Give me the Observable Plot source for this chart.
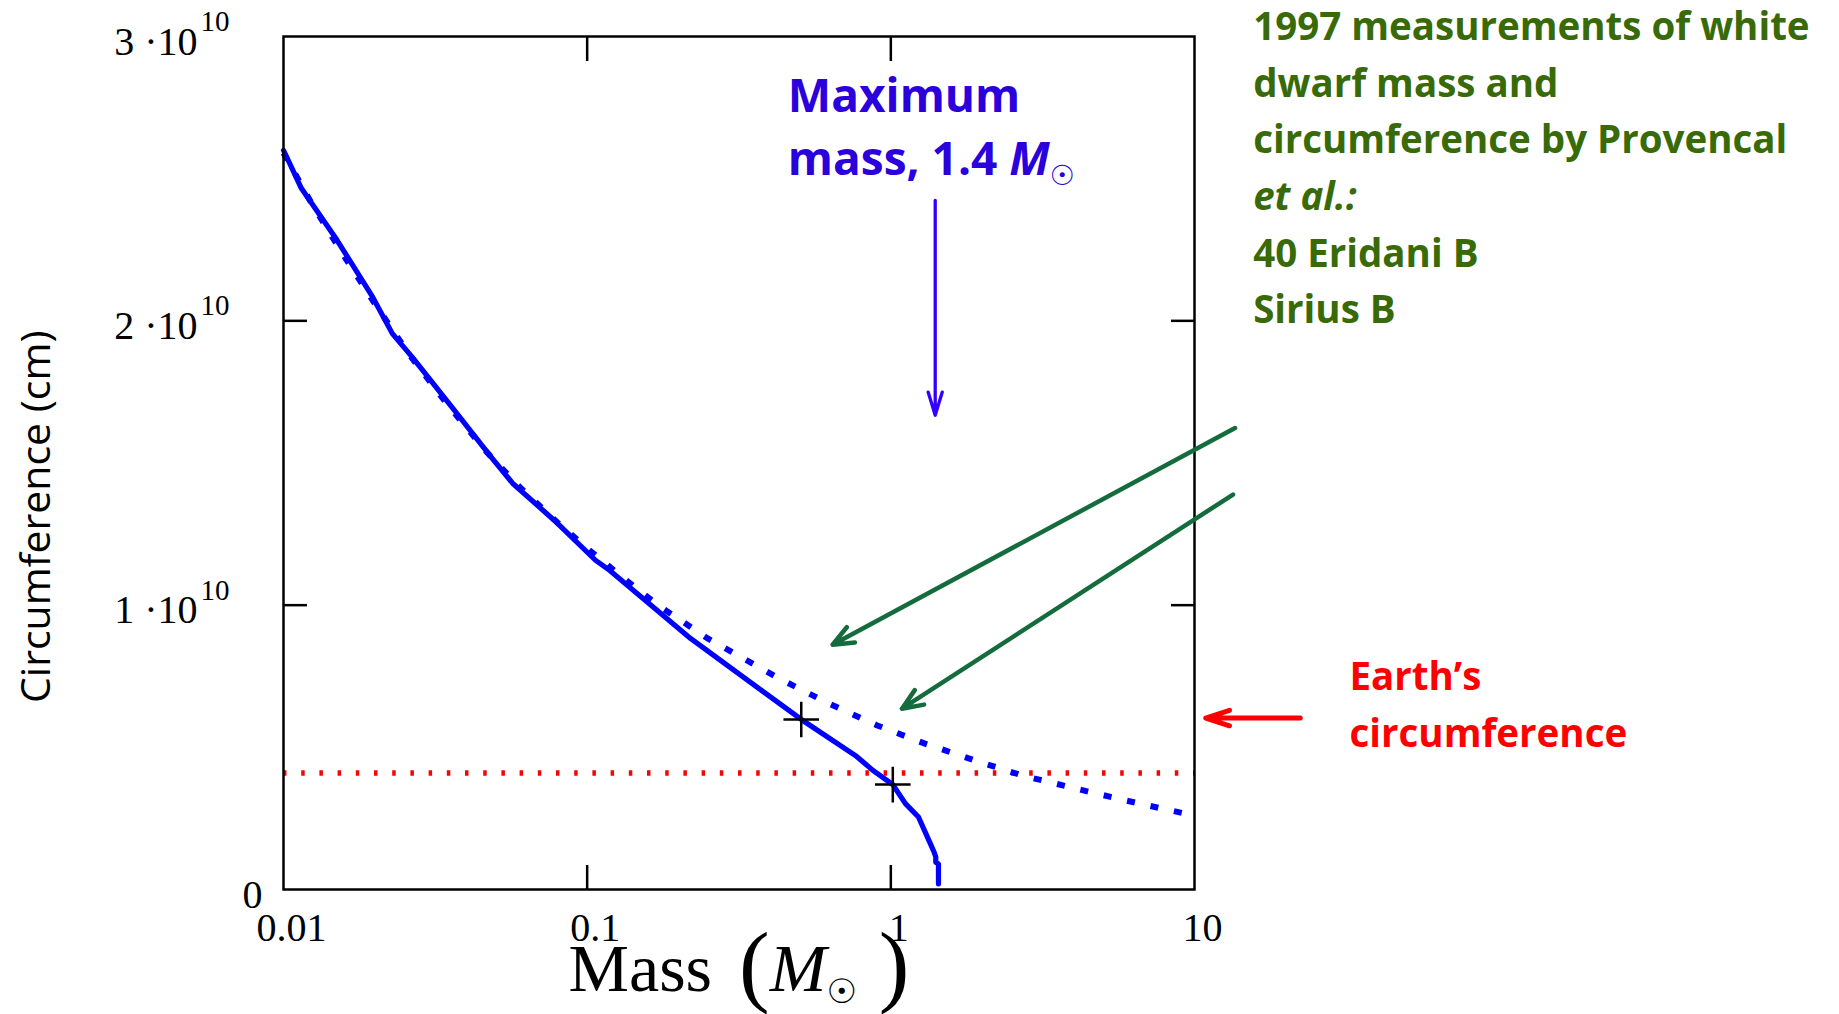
<!DOCTYPE html>
<html>
<head>
<meta charset="utf-8">
<script src="https://cdn.jsdelivr.net/npm/d3@7"></script>
<script src="https://cdn.jsdelivr.net/npm/@observablehq/plot@0.6"></script>
<style>
  html, body { margin: 0; padding: 0; background: #fff; }
  #chart svg { display: block; }
</style>
</head>
<body>
<div id="chart"></div>
<script>
// ---- Data ----
// Relativistic (solid) white-dwarf curve: mass (solar masses) vs circumference (cm)
const solidMass = [0.01, 0.01145, 0.015, 0.01965, 0.02283, 0.0265, 0.0358, 0.0483, 0.0569, 0.078, 0.1065, 0.1187, 0.2195, 0.507, 0.765, 0.873, 1.015, 1.117, 1.233, 1.338, 1.39, 1.406, 1.406, 1.435, 1.435];
const solidCirc = [2.600e10, 2.466e10, 2.284e10, 2.084e10, 1.955e10, 1.873e10, 1.697e10, 1.521e10, 1.428e10, 1.298e10, 1.158e10, 1.122e10, 0.882e10, 0.598e10, 0.471e10, 0.419e10, 0.369e10, 0.302e10, 0.255e10, 0.170e10, 0.130e10, 0.115e10, 0.096e10, 0.090e10, 0.020e10];

// Non-relativistic (dotted) curve
const dottedMass = [0.01, 0.0125, 0.016, 0.02, 0.026, 0.035, 0.047, 0.06, 0.08, 0.1, 0.13, 0.1716, 0.2502, 0.300, 0.4305, 0.628, 0.902, 1.295, 1.888, 2.71, 3.95, 5.78, 9.93, 10];
const dottedCirc = [2.59e10, 2.405e10, 2.22e10, 2.06e10, 1.88e10, 1.70e10, 1.535e10, 1.415e10, 1.29e10, 1.20e10, 1.10e10, 0.999e10, 0.882e10, 0.835e10, 0.741e10, 0.653e10, 0.577e10, 0.513e10, 0.454e10, 0.401e10, 0.358e10, 0.316e10, 0.260e10, 0.259e10];

// 1997 measurements (40 Eridani B, Sirius B)
const starNames = ["40 Eridani B", "Sirius B"];
const starMass = [0.507, 1.015];
const starCirc = [0.598e10, 0.369e10];

// Earth's circumference
const earthCirc = 4.1e9;

// Axis ticks
const xTickValues = [0.01, 0.1, 1, 10];
const xTickLabels = ["0.01", "0.1", "1", "10"];
const xInnerTicks = [0.1, 1];
const yTickValues = [1e10, 2e10, 3e10];
const yTickLabels = ["1 \u00b710", "2 \u00b710", "3 \u00b710"];
const yTickExponents = ["10", "10", "10"];
const yInnerTicks = [1e10, 2e10];

// Annotations (anchored in data coordinates)
const maxMass = 1.4;
const maxMassArrow = [{x1: maxMass, y1: 2.424e10, x2: maxMass, y2: 1.668e10}];
const maxMassText = [{x: 0.458, y: 2.512e10, text: "Maximum\nmass, 1.4"}];
const greenText = [{x: 15.6, y: 1.9916e10, text: "1997 measurements of white\ndwarf mass and\ncircumference by Provencal\net al.:\n40 Eridani B\nSirius B"}];
const greenArrows = [
  {x1: 13.6, y1: 1.623e10, x2: 0.643, y2: 0.861e10},
  {x1: 13.39, y1: 1.389e10, x2: 1.088, y2: 0.636e10}
];
const earthArrow = [{x1: 22.3, y1: 0.603e10, x2: 10.89, y2: 0.603e10}];
const earthText = [{x: 32.4, y: 0.5007e10, text: "Earth\u2019s\ncircumference"}];
const yTitle = "Circumference (cm)";
const yTitlePos = 1.311e10;

const solid = solidMass.map((m, i) => ({m, c: solidCirc[i]}));
const dotted = dottedMass.map((m, i) => ({m, c: dottedCirc[i]}));
const stars = starNames.map((name, i) => ({name, m: starMass[i], c: starCirc[i]}));

const serif = "'Liberation Serif', 'Times New Roman', serif";
const sans = "'Open Sans', Lato, sans-serif";

const chart = Plot.plot({
  width: 1839,
  height: 1014,
  marginLeft: 283,
  marginRight: 645,
  marginTop: 36,
  marginBottom: 125,
  style: {background: "white", overflow: "visible"},
  x: {type: "log", domain: [0.01, 10], axis: null},
  y: {domain: [0, 3e10], axis: null},
  marks: [
    // Earth's circumference (red dotted)
    Plot.ruleY([earthCirc], {x1: 0.01, x2: 10, stroke: "#ff0000", strokeWidth: 5.5, strokeDasharray: "3.5,14.7", strokeLinecap: "butt"}),
    // Curves
    Plot.line(dotted, {x: "m", y: "c", stroke: "#0000ff", strokeWidth: 6, strokeDasharray: "8,16", strokeLinecap: "butt", strokeLinejoin: "miter"}),
    Plot.line(solid, {x: "m", y: "c", stroke: "#0000ff", strokeWidth: 5.2, strokeLinejoin: "round"}),
    // Measurements
    Plot.dot(stars, {x: "m", y: "c", symbol: "plus", r: 11.5, stroke: "black", strokeWidth: 2.5}),
    // Frame and inward ticks
    Plot.frame({stroke: "black", strokeWidth: 2.5}),
    Plot.axisX({ticks: xInnerTicks, anchor: "bottom", tickSize: -24, strokeWidth: 2.5, tickFormat: () => "", label: null}),
    Plot.axisX({ticks: xInnerTicks, anchor: "top", tickSize: -24, strokeWidth: 2.5, tickFormat: () => "", label: null}),
    Plot.axisY({ticks: yInnerTicks, anchor: "left", tickSize: -24, strokeWidth: 2.5, tickFormat: () => "", label: null}),
    Plot.axisY({ticks: yInnerTicks, anchor: "right", tickSize: -24, strokeWidth: 2.5, tickFormat: () => "", label: null}),
    // Tick labels
    Plot.text(xTickValues, {x: d => d, text: (d, i) => xTickLabels[i], frameAnchor: "bottom", lineAnchor: "bottom", dx: 8, dy: 51, fontFamily: serif, fontSize: 40, fill: "black"}),
    Plot.text([0], {y: d => d, text: () => "0", frameAnchor: "left", textAnchor: "end", lineAnchor: "bottom", dx: -21, dy: 18, fontFamily: serif, fontSize: 40, fill: "black"}),
    Plot.text(yTickValues, {y: d => d, text: (d, i) => yTickLabels[i], frameAnchor: "left", textAnchor: "end", lineAnchor: "bottom", dx: -86, dy: 18, fontFamily: serif, fontSize: 40, fill: "black"}),
    Plot.text(yTickValues, {y: d => d, text: (d, i) => yTickExponents[i], frameAnchor: "left", textAnchor: "end", lineAnchor: "bottom", dx: -54, dy: -5.5, fontFamily: serif, fontSize: 29, fill: "black"}),
    // Axis titles
    Plot.text([yTitle], {y: yTitlePos, text: d => d, frameAnchor: "left", rotate: -90, textAnchor: "middle", lineAnchor: "bottom", dx: -233.6, fontFamily: sans, fontSize: 41, fill: "black"}),
    Plot.text(["Mass"], {text: d => d, frameAnchor: "bottom", textAnchor: "middle", lineAnchor: "bottom", dy: 101, fontFamily: serif, fontSize: 68, fill: "black"}),
    // Annotations
    Plot.arrow(maxMassArrow, {x1: "x1", y1: "y1", x2: "x2", y2: "y2", stroke: "#3300ff", strokeWidth: 3.3, headLength: 11, headAngle: 34}),
    Plot.text(maxMassText, {x: "x", y: "y", text: "text", textAnchor: "start", lineAnchor: "bottom", lineHeight: 1.376, fontFamily: sans, fontWeight: "bold", fontSize: 46, fill: "#2a00dd"}),
    Plot.arrow(greenArrows, {x1: "x1", y1: "y1", x2: "x2", y2: "y2", stroke: "#146c3c", strokeWidth: 4.5, headLength: 7.5, headAngle: 45}),
    Plot.text(greenText, {x: "x", y: "y", text: "text", textAnchor: "start", lineAnchor: "bottom", lineHeight: 1.47, fontFamily: sans, fontWeight: "bold", fontSize: 38.5, fill: "#386a08"}),
    Plot.arrow(earthArrow, {x1: "x1", y1: "y1", x2: "x2", y2: "y2", stroke: "#ff0000", strokeWidth: 5, headLength: 7.5, headAngle: 36}),
    Plot.text(earthText, {x: "x", y: "y", text: "text", textAnchor: "start", lineAnchor: "bottom", lineHeight: 1.497, fontFamily: sans, fontWeight: "bold", fontSize: 38.5, fill: "#ff0000"})
  ]
});

document.getElementById("chart").appendChild(chart);

// ---- Rich-text touches (italics, subscripts, large parentheses) ----
const svg = d3.select(chart);
// x-axis title: Mass (M☉)
svg.selectAll("text").filter(function() { return this.textContent === "Mass"; }).each(function() {
  const t = d3.select(this);
  t.append("tspan").attr("dx", 27).attr("dy", 4).attr("font-size", 92).text("(");
  t.append("tspan").attr("dy", -4).attr("font-style", "italic").text("M");
  t.append("tspan").attr("dy", 12).attr("font-size", 34).attr("font-family", "'DejaVu Sans', sans-serif").text("\u2609");
  t.append("tspan").attr("dx", 22).attr("dy", -8).attr("font-size", 92).text(")");
});
// Maximum-mass label: italic M with ☉ subscript
svg.selectAll("tspan").filter(function() { return this.textContent === "mass, 1.4"; }).each(function() {
  const t = d3.select(this);
  t.append("tspan").attr("dx", 12).attr("font-style", "italic").text("M");
  t.append("tspan").attr("dy", 10).attr("font-size", 28).attr("font-weight", "normal").attr("font-family", "'DejaVu Sans', sans-serif").text("\u2609");
});
// "et al.:" italic
svg.selectAll("tspan").filter(function() { return this.textContent === "et al.:"; }).attr("font-style", "italic");
</script>
</body>
</html>
